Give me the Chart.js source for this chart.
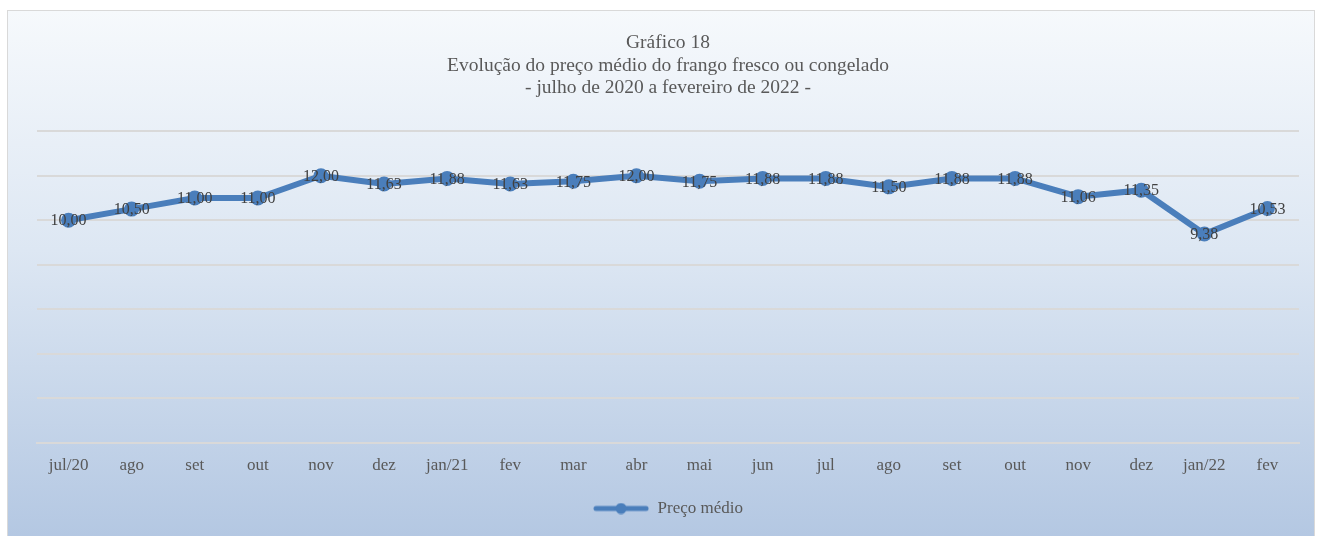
<!DOCTYPE html>
<html>
<head>
<meta charset="utf-8">
<script src="https://cdn.jsdelivr.net/npm/chart.js@4.4.0/dist/chart.umd.min.js"></script>
<style>
  html, body { margin: 0; padding: 0; background: #fff; }
  #frame {
    position: absolute; left: 7px; top: 10px; width: 1306px; height: 530px;
    border: 1px solid #d9d9d9;
    background: linear-gradient(to bottom, #f6f9fc 0%, #dde7f3 45%, #b3c7e2 100%);
  }
  #wrap { position: absolute; left: 0; top: 0; width: 1317px; height: 536px; }
</style>
</head>
<body>
<div id="frame"></div>
<div id="wrap"><canvas id="chart" width="1317" height="536"></canvas></div>
<script>
const months = ['jul/20', 'ago', 'set', 'out', 'nov', 'dez', 'jan/21', 'fev', 'mar', 'abr',
  'mai', 'jun', 'jul', 'ago', 'set', 'out', 'nov', 'dez', 'jan/22', 'fev'];
const precoMedio = [10.00, 10.50, 11.00, 11.00, 12.00, 11.63, 11.88, 11.63, 11.75, 12.00,
  11.75, 11.88, 11.88, 11.50, 11.88, 11.88, 11.06, 11.35, 9.38, 10.53];
const titleLines = ['Gráfico 18', 'Evolução do preço médio do frango fresco ou congelado', '- julho de 2020 a fevereiro de 2022 -'];

const serif = '"Liberation Serif", "DejaVu Serif", serif';
const blue = '#4a7ebb';
const textGray = '#595959';

// legend marker: line with a dot in the middle
const marker = document.createElement('canvas');
marker.width = 56; marker.height = 12;
(function () {
  const m = marker.getContext('2d');
  m.strokeStyle = blue; m.lineWidth = 5; m.lineCap = 'round';
  m.beginPath(); m.moveTo(3, 6); m.lineTo(53, 6); m.stroke();
  m.fillStyle = blue; m.beginPath(); m.arc(28, 6, 5.5, 0, Math.PI * 2); m.fill();
})();

// simple data labels centred on each point
const valueLabels = {
  id: 'valueLabels',
  afterDatasetsDraw(chart) {
    const c = chart.ctx;
    const meta = chart.getDatasetMeta(0);
    c.save();
    c.font = '16px ' + serif;
    c.fillStyle = '#404040';
    c.textAlign = 'center';
    c.textBaseline = 'middle';
    meta.data.forEach((pt, i) => {
      c.fillText(precoMedio[i].toFixed(2).replace('.', ','), pt.x, pt.y + 1);
    });
    c.restore();
  }
};

const ctx = document.getElementById('chart').getContext('2d');
const chart = new Chart(ctx, {
  type: 'line',
  data: {
    labels: months,
    datasets: [{
      label: 'Preço médio',
      data: precoMedio,
      borderColor: blue,
      backgroundColor: blue,
      borderWidth: 6,
      pointRadius: 7.5,
      pointHoverRadius: 7.5,
      pointBackgroundColor: blue,
      pointBorderWidth: 0,
      tension: 0,
      fill: false
    }]
  },
  options: {
    responsive: false,
    animation: false,
    layout: { padding: { left: 37, right: 18, top: 32, bottom: 9 } },
    scales: {
      x: {
        offset: true,
        grid: { display: false },
        border: { color: '#d9d9d9', width: 2 },
        ticks: { color: textGray, font: { family: serif, size: 17 }, padding: 5, maxRotation: 0, autoSkip: false }
      },
      y: {
        min: 0, max: 14,
        ticks: { display: false, stepSize: 2 },
        grid: { color: '#d9d9d9', lineWidth: 2, drawTicks: false },
        border: { display: false }
      }
    },
    plugins: {
      title: {
        display: true,
        text: titleLines,
        color: textGray,
        font: { family: serif, size: 19.5, weight: 'normal', lineHeight: 1.15 },
        padding: { top: 0, bottom: 32 }
      },
      legend: {
        position: 'bottom',
        labels: {
          color: textGray,
          font: { family: serif, size: 17 },
          usePointStyle: true,
          pointStyleWidth: 56,
          padding: 19,
          generateLabels: (ch) => [{
            text: ch.data.datasets[0].label,
            pointStyle: marker,
            fontColor: textGray,
            datasetIndex: 0
          }]
        }
      },
      tooltip: { enabled: false }
    }
  },
  plugins: [valueLabels]
});
</script>
</body>
</html>
